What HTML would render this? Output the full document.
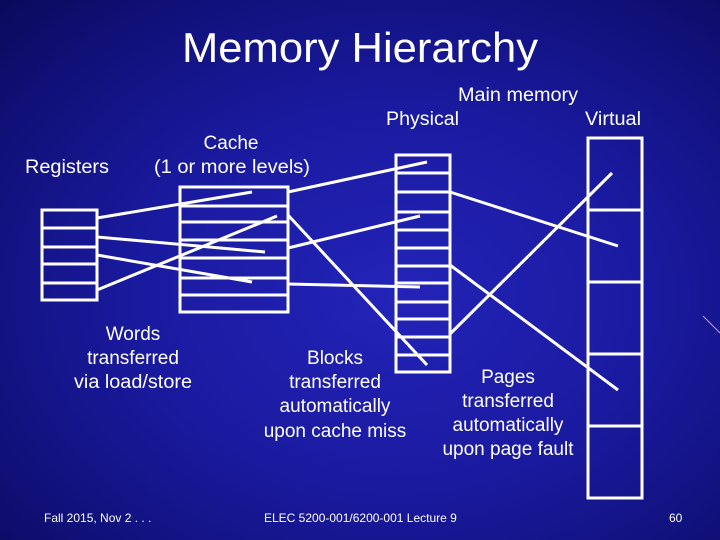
<!DOCTYPE html>
<html><head><meta charset="utf-8"><style>
html,body{margin:0;padding:0;}
body{width:720px;height:540px;overflow:hidden;background:radial-gradient(ellipse at 55% 55%,#2323b8 0%,#1a1aa0 45%,#101078 80%,#0a0a5a 100%);}
svg{display:block}
text{font-family:"Liberation Sans",sans-serif;fill:#fff;}
</style></head><body>
<svg width="720" height="540" viewBox="0 0 720 540">
<line x1="703" y1="316" x2="720" y2="333" stroke="#c8a0e0" stroke-width="1"/>
<text x="182" y="62" font-size="42" textLength="356" lengthAdjust="spacingAndGlyphs">Memory Hierarchy</text>
<text x="458" y="101" font-size="19" textLength="120" lengthAdjust="spacingAndGlyphs">Main memory</text>
<text x="386" y="125" font-size="19" textLength="73" lengthAdjust="spacingAndGlyphs">Physical</text>
<text x="585" y="125" font-size="19" textLength="56" lengthAdjust="spacingAndGlyphs">Virtual</text>
<text x="231" y="149" font-size="19" text-anchor="middle">Cache</text>
<text x="232" y="173" font-size="19" text-anchor="middle" textLength="156" lengthAdjust="spacingAndGlyphs">(1 or more levels)</text>
<text x="25" y="173" font-size="19" textLength="84" lengthAdjust="spacingAndGlyphs">Registers</text>
<g font-size="19" text-anchor="middle">
<text x="133" y="340">Words</text>
<text x="133" y="364">transferred</text>
<text x="133" y="388" textLength="118" lengthAdjust="spacingAndGlyphs">via load/store</text>
<text x="335" y="364">Blocks</text>
<text x="335" y="388">transferred</text>
<text x="335" y="412">automatically</text>
<text x="335" y="437">upon cache miss</text>
<text x="508" y="383">Pages</text>
<text x="508" y="407">transferred</text>
<text x="508" y="431">automatically</text>
<text x="508" y="455">upon page fault</text>
</g>
<text x="44" y="522" font-size="12">Fall 2015, Nov 2 . . .</text>
<text x="264" y="522" font-size="12">ELEC 5200-001/6200-001 Lecture 9</text>
<text x="669" y="522" font-size="12">60</text>
<g stroke="#fff" stroke-width="3" fill="none">
<rect x="42" y="210" width="55" height="90"/>
<line x1="42" y1="228" x2="97" y2="228"/><line x1="42" y1="247" x2="97" y2="247"/><line x1="42" y1="264" x2="97" y2="264"/><line x1="42" y1="283" x2="97" y2="283"/>
<rect x="180" y="187" width="108" height="125"/>
<line x1="180" y1="206" x2="288" y2="206"/><line x1="180" y1="222" x2="288" y2="222"/><line x1="180" y1="240" x2="288" y2="240"/><line x1="180" y1="258" x2="288" y2="258"/><line x1="180" y1="278" x2="288" y2="278"/><line x1="180" y1="295" x2="288" y2="295"/>
<rect x="396" y="155" width="54" height="217"/>
<line x1="396" y1="173" x2="450" y2="173"/><line x1="396" y1="192" x2="450" y2="192"/><line x1="396" y1="212" x2="450" y2="212"/><line x1="396" y1="230" x2="450" y2="230"/><line x1="396" y1="248" x2="450" y2="248"/><line x1="396" y1="266" x2="450" y2="266"/><line x1="396" y1="283" x2="450" y2="283"/><line x1="396" y1="302" x2="450" y2="302"/><line x1="396" y1="319" x2="450" y2="319"/><line x1="396" y1="337" x2="450" y2="337"/><line x1="396" y1="355" x2="450" y2="355"/>
<rect x="588" y="138" width="54" height="360"/>
<line x1="588" y1="210" x2="642" y2="210"/><line x1="588" y1="282" x2="642" y2="282"/><line x1="588" y1="354" x2="642" y2="354"/><line x1="588" y1="426" x2="642" y2="426"/>
<line x1="97" y1="218" x2="252" y2="192"/>
<line x1="97" y1="237" x2="265" y2="252"/>
<line x1="97" y1="255" x2="252" y2="282"/>
<line x1="97" y1="290" x2="277" y2="216"/>
<line x1="288" y1="192" x2="427" y2="162"/>
<line x1="288" y1="215" x2="427" y2="365"/>
<line x1="288" y1="248" x2="420" y2="216"/>
<line x1="288" y1="284" x2="420" y2="287"/>
<line x1="450" y1="192" x2="618" y2="246"/>
<line x1="450" y1="265" x2="618" y2="390"/>
<line x1="450" y1="334" x2="612" y2="173"/>
</g>
</svg>
</body></html>
